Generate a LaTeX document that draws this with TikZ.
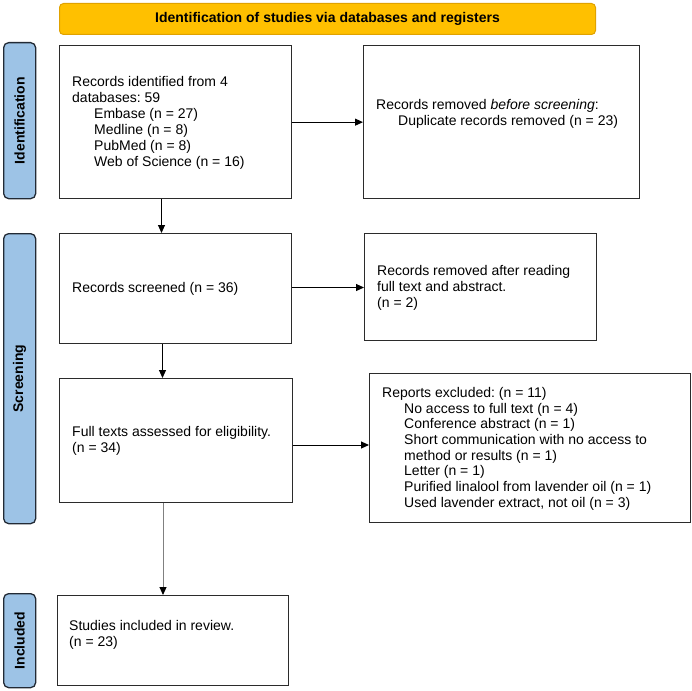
\documentclass[tikz,border=0pt]{standalone}
\usepackage{fontspec}
\setmainfont{Liberation Sans}
\frenchspacing
\usetikzlibrary{arrows.meta}
\definecolor{titlefill}{HTML}{FFC000}
\definecolor{titleline}{HTML}{E0A200}
\definecolor{sidefill}{HTML}{9DC3E6}
\definecolor{sideline}{HTML}{222A35}
\definecolor{boxline}{HTML}{2B2B2B}
\definecolor{greyarrow}{HTML}{808080}
\tikzset{
  box/.style={draw=boxline, line width=1.3pt, rectangle, inner sep=0pt, anchor=north west},
  titlebox/.style={draw=titleline, fill=titlefill, line width=1pt, rounded corners=4pt, inner sep=0pt, anchor=north west,
    font=\fontsize{14}{16}\selectfont\bfseries},
  sidebox/.style={draw=sideline, fill=sidefill, line width=1.3pt, rounded corners=5pt, inner sep=0pt, anchor=north west},
  sidetxt/.style={rotate=90, font=\fontsize{14}{16}\selectfont\bfseries, inner sep=0pt},
  txt/.style={anchor=west, align=left, inner sep=0pt, font=\fontsize{14}{16}\selectfont},
  arr/.style={line width=1pt, -{Triangle[length=8pt,width=7pt,color=black]}},
}
\newcommand{\ind}{\hspace*{22pt}}
\begin{document}
\begin{tikzpicture}[x=1pt,y=-1pt]
\useasboundingbox (0,0) rectangle (692,690);
% title
\node[titlebox, minimum width=536pt, minimum height=31pt] (title) at (59,3) {Identification of studies via databases and registers};
% side labels
\node[sidebox, minimum width=32pt, minimum height=156pt] (sid) at (3,42) {};
\node[sidetxt] (sidt) at (sid.center) {Identification};
\node[sidebox, minimum width=32pt, minimum height=290pt] (sscr) at (3,233) {};
\node[sidetxt] (sscrt) at (sscr.center) {Screening};
\node[sidebox, minimum width=32pt, minimum height=94pt] (sinc) at (3,593) {};
\node[sidetxt] (sinct) at (sinc.center) {Included};
% boxes
\node[box, minimum width=232pt, minimum height=153pt] (b1) at (59,45) {};
\node[box, minimum width=276pt, minimum height=153pt] (b2) at (363,45) {};
\node[box, minimum width=232pt, minimum height=110pt] (b3) at (59,233) {};
\node[box, minimum width=232pt, minimum height=107pt] (b4) at (364,233) {};
\node[box, minimum width=233pt, minimum height=124pt] (b5) at (59,378) {};
\node[box, minimum width=321pt, minimum height=149pt] (b6) at (369,373) {};
\node[box, minimum width=231pt, minimum height=90pt] (b7) at (57,595) {};
% texts
\node[txt] (t1) at ([xshift=13pt,yshift=-1pt]b1.west) {Records identified from 4\\databases: 59\\\ind Embase (n = 27)\\\ind Medline (n = 8)\\\ind PubMed (n = 8)\\\ind Web of Science (n = 16)};
\node[txt] (t2) at ([xshift=13pt,yshift=8pt]b2.west) {Records removed \textit{before screening}:\\\ind Duplicate records removed (n = 23)};
\node[txt] (t3) at ([xshift=13pt]b3.west) {Records screened (n = 36)};
\node[txt] (t4) at ([xshift=13pt,yshift=-1pt]b4.west) {Records removed after reading\\full text and abstract.\\(n = 2)};
\node[txt] (t5) at ([xshift=13pt]b5.west) {Full texts assessed for eligibility.\\(n = 34)};
\node[txt, font=\fontsize{14}{15.7}\selectfont] (t6) at ([xshift=13pt,yshift=-0.5pt]b6.west) {Reports excluded: (n = 11)\\\ind No access to full text (n = 4)\\\ind Conference abstract (n = 1)\\\ind Short communication with no access to\\\ind method or results (n = 1)\\\ind Letter (n = 1)\\\ind Purified linalool from lavender oil (n = 1)\\\ind Used lavender extract, not oil (n = 3)};
\node[txt] (t7) at ([xshift=12pt,yshift=6pt]b7.west) {Studies included in review.\\(n = 23)};
% connector guide coordinates
\coordinate (c1) at (161.5,0);
\coordinate (c2) at (162.5,0);
\coordinate (c3) at (163,0);
\coordinate (r1) at (0,287.5);
\coordinate (r2) at (0,445);
% connectors
\draw[arr] (b1.east) -- (b1.east -| b2.west);
\draw[arr] (b1.south -| c1) -- (b3.north -| c1);
\draw[arr] (b3.east |- r1) -- (b4.west |- r1);
\draw[arr] (b3.south -| c2) -- (b5.north -| c2);
\draw[arr] (b5.east |- r2) -- (b6.west |- r2);
\draw[arr, draw=greyarrow] (b5.south -| c3) -- (b7.north -| c3);
\end{tikzpicture}
\end{document}
